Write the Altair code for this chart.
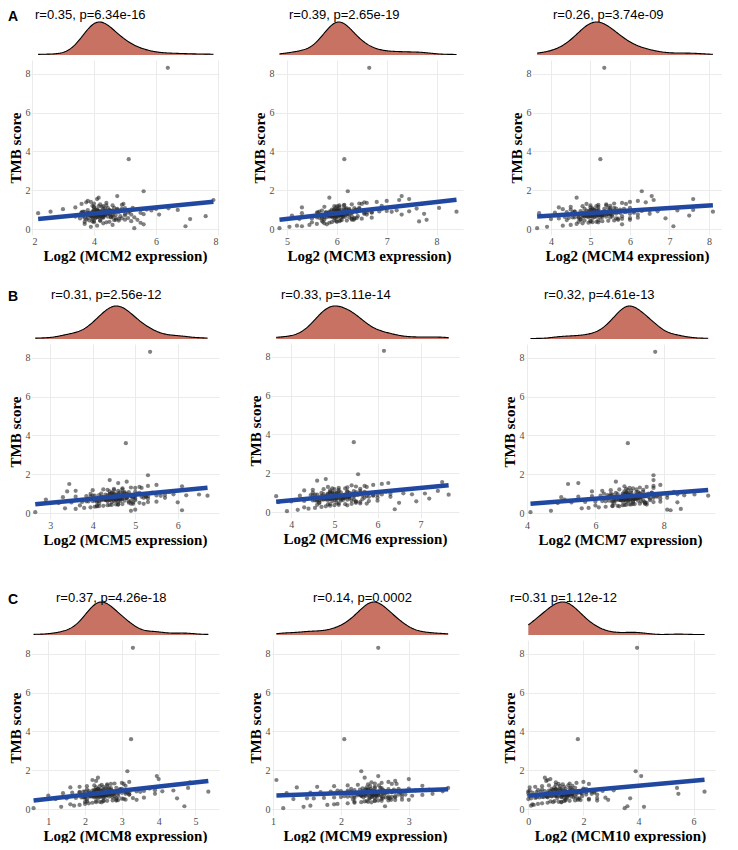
import altair as alt
import pandas as pd

# TMB score, shared by all panels (same samples)
tmb = [8.3, 3.6, 1.95,
       0.05, 0.12, 0.18, 0.22, 0.27, 0.3, 0.33, 0.36, 0.38, 0.41, 0.43, 0.45, 0.47, 0.49, 0.4, 0.35, 0.15, 0.25, 0.44, 0.48,
       0.52, 0.55, 0.58, 0.6, 0.62, 0.64, 0.66, 0.68, 0.7, 0.72, 0.74, 0.76, 0.78, 0.8, 0.53, 0.57, 0.61, 0.65, 0.69, 0.73, 0.77, 0.54, 0.59, 0.63, 0.67, 0.71, 0.75, 0.79, 0.56, 0.7,
       0.82, 0.85, 0.88, 0.9, 0.93, 0.95, 0.98, 1.0, 1.02, 1.05, 1.08, 1.1, 0.84, 0.87, 0.91, 0.94, 0.97, 1.01, 1.04, 1.07, 0.83, 0.86, 0.89, 0.92, 0.96, 0.99, 1.03, 1.06, 1.09, 0.9,
       1.12, 1.15, 1.18, 1.22, 1.25, 1.28, 1.32, 1.35, 1.4, 1.45, 1.5, 1.55, 1.62, 1.7, 1.2, 1.3, 1.38,
       0.62, 0.71, 0.85, 0.93, 0.78, 0.66, 1.02, 0.58, 0.74, 0.88, 0.95, 0.69, 0.81, 1.12, 0.55, 0.76, 0.9, 0.64, 1.05, 0.72,
       0.83, 0.6, 0.97, 0.68, 0.79, 1.15, 0.5, 0.87, 0.73, 0.92, 0.65, 1.0, 0.57, 0.84, 0.77, 0.45, 1.22, 0.7, 0.89, 0.63,
       0.98, 0.75, 0.82, 0.38, 1.08, 0.67, 0.86, 0.59, 0.94, 1.3, 0.71, 0.8, 0.48, 1.18, 0.74, 0.91, 0.61, 0.99, 0.85, 0.42]

mcm2 = [6.38, 5.12, 5.6,
        5.3, 3.9, 4.1, 4.6, 3.7, 4.3, 5.5, 4.0, 4.5, 5.2, 4.2, 3.85, 4.65, 5.0, 3.95, 4.4, 6.95, 5.6, 4.8, 5.4,
        7.1, 3.55, 3.8, 4.05, 4.15, 4.25, 3.65, 3.9, 4.35, 4.6, 4.0, 4.1, 3.75, 4.45, 4.8, 5.1, 5.3, 3.4, 4.2, 4.7, 5.6, 3.95, 4.3, 4.55, 7.6, 5.0, 6.1, 4.05, 4.9, 3.5,
        2.2, 3.6, 4.0, 4.2, 4.4, 4.6, 3.8, 4.1, 4.3, 4.75, 5.0, 5.25, 5.5, 3.95, 4.15, 4.5, 4.85, 5.7, 6.0, 6.4, 4.25, 4.05, 3.7, 5.15, 5.85, 6.7, 3.0, 4.35, 4.65, 2.6,
        3.4, 4.0, 4.3, 4.6, 4.9, 4.2, 4.0, 4.4, 3.9, 3.8, 7.85, 4.1, 4.15, 4.75, 3.95, 3.6, 3.75,
        4.1, 3.8, 4.4, 4.25, 3.95, 4.6, 4.05, 3.7, 4.35, 4.8, 4.15, 3.9, 4.5, 4.0, 4.7, 4.2, 3.65, 4.45, 4.9, 4.3,
        3.85, 4.55, 4.1, 4.0, 5.0, 4.25, 3.75, 4.65, 4.35, 3.95, 4.15, 4.75, 4.05, 3.8, 4.5, 4.2, 4.4, 3.9, 4.6, 4.3,
        4.0, 5.2, 4.1, 3.7, 4.45, 4.85, 3.6, 4.25, 4.55, 4.95, 4.2, 3.85, 4.7, 4.15, 4.05, 4.35, 3.95, 4.5, 5.1, 4.0]

mcm3 = [6.65, 6.15, 6.22,
        4.85, 5.05, 5.2, 5.45, 5.6, 5.75, 5.85, 5.9, 6.0, 6.05, 5.7, 5.95, 6.1, 6.3, 7.65, 5.5, 5.3, 5.8, 6.2, 7.8,
        5.25, 5.5, 5.65, 5.75, 5.8, 5.85, 5.9, 5.95, 6.0, 6.02, 6.05, 6.1, 6.15, 6.2, 6.3, 6.4, 5.6, 5.7, 5.92, 6.08, 6.25, 6.5, 6.7, 5.98, 6.12, 5.88, 7.3, 7.75, 6.35, 5.1,
        5.3, 5.6, 5.78, 5.85, 5.95, 6.0, 6.05, 6.1, 6.18, 6.25, 6.35, 6.45, 6.55, 6.7, 6.85, 7.0, 7.2, 5.9, 6.02, 6.15, 6.3, 6.6, 7.1, 7.45, 5.7, 6.4, 6.9, 7.6, 8.05, 8.4,
        5.3, 5.75, 5.95, 6.05, 6.15, 6.3, 6.45, 6.6, 6.8, 7.0, 7.25, 7.45, 5.85, 7.3, 6.9, 7.7, 6.55,
        6.0, 5.8, 6.15, 6.05, 5.9, 6.3, 5.95, 5.7, 6.1, 6.4, 6.02, 5.85, 6.2, 5.98, 6.35, 6.08, 5.65, 6.12, 6.45, 6.18,
        5.82, 6.25, 6.0, 5.92, 6.55, 6.05, 5.75, 6.28, 6.1, 5.88, 6.03, 6.38, 5.96, 5.78, 6.22, 6.07, 6.14, 5.86, 6.32, 6.16,
        5.94, 6.6, 6.04, 5.72, 6.19, 6.42, 5.62, 6.09, 6.26, 6.5, 6.06, 5.84, 6.34, 6.01, 5.97, 6.13, 5.91, 6.24, 6.7, 5.99]

mcm4 = [5.35, 5.25, 6.3,
        3.65, 3.9, 4.3, 4.5, 4.65, 4.8, 4.95, 5.05, 5.15, 5.3, 5.45, 5.6, 4.4, 4.75, 5.0, 5.2, 7.1, 5.8, 4.85, 6.0,
        4.0, 4.2, 4.45, 4.55, 4.7, 4.8, 4.9, 5.0, 5.1, 5.2, 5.3, 5.4, 5.5, 5.65, 5.8, 6.0, 4.6, 4.85, 5.05, 5.25, 5.45, 5.7, 6.2, 4.35, 4.95, 5.15, 5.55, 6.5, 6.9, 7.5,
        3.7, 4.1, 4.4, 4.6, 4.75, 4.9, 5.0, 5.1, 5.2, 5.35, 5.5, 5.6, 5.75, 5.9, 6.1, 6.3, 6.5, 4.5, 4.85, 5.05, 5.25, 5.45, 5.85, 6.7, 7.2, 7.6, 4.3, 5.65, 6.0, 8.1,
        4.2, 4.5, 4.8, 5.0, 5.2, 5.4, 5.6, 5.8, 6.0, 6.2, 6.6, 7.6, 4.65, 6.55, 5.5, 4.9, 6.4,
        5.1, 4.8, 5.35, 5.2, 4.95, 5.55, 5.05, 4.7, 5.3, 5.7, 5.15, 4.85, 5.45, 5.0, 5.65, 5.25, 4.6, 5.4, 5.85, 5.3,
        4.9, 5.5, 5.1, 5.0, 6.0, 5.2, 4.75, 5.6, 5.35, 4.95, 5.15, 5.75, 5.05, 4.8, 5.5, 5.2, 5.4, 4.9, 5.6, 5.3,
        5.0, 6.2, 5.1, 4.7, 5.45, 5.8, 4.55, 5.25, 5.55, 5.9, 5.2, 4.85, 5.7, 5.15, 5.05, 5.35, 4.95, 5.5, 6.1, 5.0]

mcm5 = [5.35, 4.78, 5.3,
        2.65, 4.9, 5.0, 3.6, 3.8, 3.95, 4.05, 4.15, 4.25, 4.35, 4.45, 4.55, 4.7, 4.9, 3.7, 4.1, 6.1, 3.35, 4.6, 5.2,
        3.2, 3.5, 3.75, 3.9, 4.0, 4.1, 4.2, 4.3, 4.4, 4.5, 4.6, 4.7, 4.8, 4.95, 5.1, 5.3, 3.85, 4.05, 4.25, 4.45, 4.65, 4.85, 5.5, 4.15, 4.35, 4.55, 5.0, 5.7, 6.0, 2.9,
        3.3, 3.6, 3.85, 4.0, 4.15, 4.3, 4.4, 4.5, 4.6, 4.7, 4.85, 5.0, 5.15, 5.3, 5.5, 5.7, 5.9, 4.2, 4.45, 4.65, 4.95, 5.25, 5.6, 6.2, 6.5, 3.95, 4.75, 5.4, 5.8, 6.7,
        3.4, 3.6, 4.0, 4.25, 4.5, 4.7, 4.9, 5.1, 5.3, 5.5, 3.45, 4.6, 4.8, 4.4, 4.35, 5.0, 6.1,
        4.5, 4.2, 4.7, 4.6, 4.35, 4.9, 4.45, 4.1, 4.65, 5.0, 4.55, 4.3, 4.8, 4.4, 4.95, 4.6, 4.05, 4.75, 5.1, 4.65,
        4.25, 4.85, 4.5, 4.4, 5.2, 4.6, 4.15, 4.9, 4.7, 4.35, 4.55, 5.05, 4.45, 4.2, 4.8, 4.6, 4.7, 4.3, 4.9, 4.65,
        4.4, 5.3, 4.5, 4.1, 4.75, 5.0, 3.95, 4.6, 4.85, 5.15, 4.55, 4.25, 4.95, 4.5, 4.45, 4.7, 4.35, 4.8, 5.25, 4.4]

mcm6 = [6.15, 5.45, 5.55,
        3.9, 4.15, 4.4, 4.55, 4.7, 4.8, 4.9, 5.0, 5.1, 5.25, 5.4, 5.6, 4.65, 5.05, 4.85, 5.3, 6.4, 4.3, 5.75, 6.5,
        3.7, 4.0, 4.3, 4.5, 4.6, 4.7, 4.8, 4.9, 4.95, 5.0, 5.1, 5.2, 5.3, 5.45, 5.6, 5.8, 4.55, 4.75, 4.85, 5.05, 5.25, 5.5, 6.0, 4.65, 5.15, 5.35, 5.7, 6.3, 6.9, 7.2,
        3.65, 4.2, 4.45, 4.6, 4.75, 4.85, 4.95, 5.05, 5.15, 5.3, 5.45, 5.6, 5.75, 5.9, 6.1, 6.3, 6.6, 4.5, 4.9, 5.1, 5.35, 5.65, 6.0, 6.8, 7.1, 4.7, 5.5, 6.2, 7.4, 7.65,
        4.3, 4.5, 4.75, 4.95, 5.1, 5.3, 5.5, 5.7, 5.9, 6.1, 6.25, 7.5, 4.6, 4.8, 5.6, 4.85, 5.4,
        5.0, 4.7, 5.25, 5.1, 4.85, 5.45, 4.95, 4.6, 5.2, 5.55, 5.05, 4.75, 5.35, 4.9, 5.5, 5.15, 4.55, 5.3, 5.7, 5.2,
        4.8, 5.4, 5.0, 4.9, 5.8, 5.1, 4.65, 5.45, 5.25, 4.85, 5.05, 5.6, 4.95, 4.7, 5.35, 5.1, 5.25, 4.8, 5.5, 5.2,
        4.9, 6.0, 5.0, 4.6, 5.3, 5.65, 4.5, 5.15, 5.4, 5.75, 5.05, 4.75, 5.5, 5.0, 4.95, 5.25, 4.85, 5.35, 5.9, 4.9]

mcm7 = [7.75, 6.95, 7.7,
        4.1, 4.7, 8.1, 8.5, 5.8, 6.1, 6.3, 6.5, 6.65, 6.8, 6.9, 7.0, 7.15, 7.3, 6.0, 6.7, 8.2, 5.6, 7.5, 7.1,
        4.9, 5.3, 5.7, 6.0, 6.2, 6.4, 6.55, 6.7, 6.8, 6.9, 7.0, 7.1, 7.2, 7.35, 7.5, 7.7, 6.3, 6.6, 6.85, 7.05, 7.25, 7.45, 7.9, 6.5, 6.75, 6.95, 7.6, 8.1, 8.4, 5.1,
        5.0, 5.5, 5.9, 6.15, 6.35, 6.5, 6.65, 6.8, 6.95, 7.05, 7.2, 7.4, 7.55, 7.7, 7.9, 8.1, 8.4, 6.25, 6.6, 6.9, 7.15, 7.45, 7.8, 8.6, 8.9, 6.45, 7.3, 7.65, 8.3, 9.3,
        5.9, 6.2, 6.45, 6.7, 6.9, 7.1, 7.3, 7.5, 7.7, 7.9, 5.2, 5.5, 6.6, 7.7, 7.4, 7.0, 6.85,
        6.95, 6.6, 7.2, 7.05, 6.8, 7.4, 6.9, 6.5, 7.15, 7.5, 7.0, 6.7, 7.3, 6.85, 7.45, 7.1, 6.45, 7.25, 7.65, 7.15,
        6.75, 7.35, 6.95, 6.85, 7.7, 7.05, 6.55, 7.4, 7.2, 6.8, 7.0, 7.55, 6.9, 6.6, 7.3, 7.05, 7.2, 6.75, 7.45, 7.1,
        6.85, 7.9, 6.95, 6.5, 7.25, 7.6, 6.4, 7.1, 7.35, 7.7, 7.0, 6.7, 7.45, 6.95, 6.9, 7.2, 6.8, 7.3, 7.8, 6.85]

mcm8 = [3.3, 3.25, 3.15,
        0.6, 1.35, 1.7, 1.85, 2.0, 2.1, 2.2, 2.3, 2.4, 2.5, 2.6, 2.75, 2.9, 3.1, 2.05, 2.45, 4.7, 1.6, 2.85, 3.4,
        1.2, 1.5, 1.75, 1.9, 2.0, 2.1, 2.15, 2.25, 2.35, 2.45, 2.55, 2.65, 2.75, 2.9, 3.05, 3.3, 1.95, 2.2, 2.4, 2.6, 2.8, 3.0, 3.6, 2.3, 2.5, 2.7, 3.2, 3.9, 4.5, 1.0,
        1.4, 1.65, 1.85, 2.0, 2.1, 2.2, 2.3, 2.4, 2.5, 2.6, 2.7, 2.85, 3.0, 3.2, 3.4, 3.6, 3.9, 2.05, 2.35, 2.55, 2.8, 3.1, 3.5, 4.1, 4.4, 2.25, 2.95, 3.75, 4.8, 5.35,
        1.6, 1.85, 2.05, 2.25, 2.45, 2.6, 2.8, 3.0, 3.2, 2.3, 2.2, 4.0, 2.35, 3.95, 3.1, 2.7, 4.85,
        2.4, 2.1, 2.6, 2.5, 2.25, 2.8, 2.35, 2.0, 2.55, 2.9, 2.45, 2.15, 2.7, 2.3, 2.85, 2.5, 1.95, 2.65, 3.0, 2.55,
        2.2, 2.75, 2.4, 2.3, 3.1, 2.5, 2.05, 2.8, 2.6, 2.25, 2.45, 2.95, 2.35, 2.1, 2.7, 2.5, 2.6, 2.2, 2.8, 2.55,
        2.3, 3.2, 2.4, 2.0, 2.65, 2.9, 1.85, 2.5, 2.75, 3.05, 2.45, 2.15, 2.85, 2.4, 2.35, 2.6, 2.25, 2.7, 3.15, 2.3]

mcm9 = [2.55, 2.05, 2.3,
        1.15, 1.45, 1.55, 1.8, 1.95, 2.1, 2.2, 2.3, 2.4, 2.5, 2.6, 2.7, 2.8, 2.9, 2.35, 2.45, 2.65, 1.9, 2.55, 3.0,
        1.3, 1.6, 1.75, 1.9, 2.0, 2.1, 2.15, 2.2, 2.3, 2.35, 2.4, 2.45, 2.5, 2.55, 2.6, 2.7, 2.8, 2.9, 3.05, 3.2, 2.25, 2.42, 2.62, 2.75, 2.05, 2.48, 2.85, 3.35, 1.5, 2.52,
        1.2, 1.55, 1.7, 1.85, 2.0, 2.1, 2.2, 2.28, 2.36, 2.44, 2.5, 2.58, 2.66, 2.75, 2.85, 2.95, 3.1, 3.3, 2.15, 2.32, 2.46, 2.62, 2.8, 3.5, 1.95, 2.4, 2.7, 3.0, 3.58, 2.55,
        1.35, 1.65, 1.9, 2.1, 2.25, 2.4, 2.5, 2.6, 2.7, 2.8, 1.05, 3.0, 2.35, 2.55, 3.2, 2.75, 2.45,
        2.45, 2.25, 2.55, 2.5, 2.35, 2.7, 2.4, 2.2, 2.52, 2.75, 2.47, 2.3, 2.62, 2.38, 2.72, 2.5, 2.15, 2.6, 2.85, 2.55,
        2.28, 2.66, 2.44, 2.36, 2.9, 2.5, 2.18, 2.68, 2.58, 2.32, 2.46, 2.78, 2.42, 2.22, 2.64, 2.5, 2.56, 2.3, 2.7, 2.53,
        2.37, 2.95, 2.45, 2.2, 2.6, 2.8, 2.1, 2.5, 2.65, 2.82, 2.46, 2.26, 2.74, 2.43, 2.4, 2.57, 2.33, 2.62, 2.88, 2.38]

mcm10 = [3.95, 1.8, 3.9,
         3.5, 4.2, 0.1, 0.2, 0.35, 0.5, 0.7, 0.9, 1.1, 1.3, 1.5, 1.7, 1.9, 2.2, 0.8, 1.2, 3.6, 0.15, 2.5, 2.9,
         0.0, 0.1, 0.25, 0.4, 0.55, 0.7, 0.85, 1.0, 1.15, 1.3, 1.45, 1.6, 1.75, 1.95, 2.2, 2.5, 0.3, 0.65, 0.95, 1.25, 1.55, 1.85, 2.8, 0.5, 1.05, 1.4, 2.1, 5.45, 3.7, 0.02,
         0.0, 0.15, 0.3, 0.45, 0.6, 0.75, 0.9, 1.05, 1.2, 1.35, 1.5, 1.7, 1.9, 2.1, 2.4, 2.7, 3.1, 0.5, 0.85, 1.15, 1.45, 1.8, 2.3, 0.0, 0.05, 0.35, 1.0, 2.0, 5.4, 6.4,
         0.05, 0.25, 0.5, 0.75, 1.0, 1.25, 1.5, 1.75, 2.0, 0.65, 0.7, 0.8, 0.6, 4.1, 1.6, 1.1, 1.0,
         1.2, 0.6, 1.5, 1.35, 0.9, 1.7, 1.0, 1.4, 1.4, 1.9, 1.25, 0.75, 1.6, 0.95, 1.8, 1.3, 1.3, 1.55, 2.1, 1.45,
         0.7, 1.65, 1.15, 0.85, 2.3, 1.3, 1.35, 1.75, 1.5, 0.8, 1.2, 2.0, 1.05, 1.25, 1.6, 1.35, 1.45, 0.65, 1.7, 1.4,
         0.9, 2.5, 1.1, 1.2, 1.55, 1.95, 1.1, 1.3, 1.65, 2.2, 1.25, 1.45, 1.8, 1.15, 1.0, 1.5, 0.7, 1.6, 2.4, 0.95]

genes = ["MCM2", "MCM3", "MCM4", "MCM5", "MCM6", "MCM7", "MCM8", "MCM9", "MCM10"]
series = [mcm2, mcm3, mcm4, mcm5, mcm6, mcm7, mcm8, mcm9, mcm10]
stats = ["r=0.35, p=6.34e-16", "r=0.39, p=2.65e-19", "r=0.26, p=3.74e-09",
         "r=0.31, p=2.56e-12", "r=0.33, p=3.11e-14", "r=0.32, p=4.61e-13",
         "r=0.37, p=4.26e-18", "r=0.14, p=0.0002", "r=0.31 p=1.12e-12"]
x_domains = [[1.97, 8.03], [4.76, 8.53], [3.52, 8.33],
             [2.55, 6.97], [3.53, 7.89], [3.94, 9.5],
             [0.53, 5.64], [0.97, 3.74], [-0.12, 6.78]]
x_grid = [[2, 3, 4, 5, 6, 7, 8],
          [5, 5.5, 6, 6.5, 7, 7.5, 8, 8.5],
          [3.5, 4, 4.5, 5, 5.5, 6, 6.5, 7, 7.5, 8],
          [3, 3.5, 4, 4.5, 5, 5.5, 6, 6.5],
          [3.5, 4, 4.5, 5, 5.5, 6, 6.5, 7, 7.5],
          [4, 4.5, 5, 5.5, 6, 6.5, 7, 7.5, 8, 8.5, 9, 9.5],
          [1, 1.5, 2, 2.5, 3, 3.5, 4, 4.5, 5, 5.5],
          [1, 1.5, 2, 2.5, 3, 3.5],
          [0, 1, 2, 3, 4, 5, 6]]
x_labels = [[2, 4, 6, 8], [5, 6, 7, 8], [4, 5, 6, 7, 8],
            [3, 4, 5, 6], [4, 5, 6, 7], [4, 5, 6, 7, 8, 9],
            [1, 2, 3, 4, 5], [1, 2, 3], [0, 2, 4, 6]]
bandwidths = [0.36, 0.2, 0.28, 0.22, 0.23, 0.26, 0.24, 0.14, 0.4]
title_dx = [4, 14, 21, 20, 10, 19, 25, 42, -15]
row_title_offset = [-2, 2, -5]
letters = ["A", "B", "C"]
widths = [188, 188, 190]

y_grid = [0, 1, 2, 3, 4, 5, 6, 7, 8]

FILL = "#C87264"
BLUE = "#2148A0"
H = 175
DH = 33


def panel(i):
    df = pd.DataFrame({"x": series[i], "y": tmb})
    base = alt.Chart(df)
    xscale = alt.Scale(domain=x_domains[i], nice=False, zero=False)
    row = i // 3
    W = widths[i % 3]
    dens = base.transform_density(
        "x", as_=["xv", "density"], bandwidth=bandwidths[i]
    ).mark_area(
        color=FILL, opacity=1, line={"color": "black", "strokeWidth": 1.1}
    ).encode(
        x=alt.X("xv:Q", scale=xscale, axis=None),
        y=alt.Y("density:Q", axis=None, scale=alt.Scale(zero=True, nice=False)),
    ).properties(
        width=W, height=DH,
        title=alt.TitleParams(stats[i], anchor="start", frame="group", dx=title_dx[i],
                              offset=row_title_offset[row], font="Liberation Sans",
                              fontSize=13, fontWeight="normal", color="black"),
    )
    lab_list = ",".join(str(v) for v in x_labels[i])
    pts = base.mark_circle(size=18, color="#262626", opacity=0.58).encode(
        x=alt.X("x:Q", scale=xscale, title=f"Log2 ({genes[i]} expression)",
                axis=alt.Axis(values=x_grid[i], format="~g",
                              labelExpr=f"indexof([{lab_list}], datum.value) >= 0 ? datum.label : ''")),
        y=alt.Y("y:Q", scale=alt.Scale(domain=[-0.3, 8.7], nice=False, zero=False),
                title="TMB score",
                axis=alt.Axis(values=y_grid, format="~g",
                              labelExpr="indexof([0,2,4,6,8], datum.value) >= 0 ? datum.label : ''")),
    )
    reg = base.transform_regression("x", "y").mark_line(
        color=BLUE, strokeWidth=4.5
    ).encode(x="x:Q", y="y:Q")
    scat = alt.layer(pts, reg).properties(width=W, height=H)
    return alt.vconcat(dens, scat, spacing=3)


rows = []
for r in range(3):
    p = [panel(3 * r + c) for c in range(3)]
    rows.append(alt.hconcat(alt.hconcat(p[0], p[1], spacing=29), p[2], spacing=43).properties(
        title=alt.TitleParams(letters[r], anchor="start", frame="bounds", offset=-15,
                              font="Liberation Sans", fontSize=14, fontWeight="bold", color="black")))

chart = alt.vconcat(alt.vconcat(rows[0], rows[1], spacing=25), rows[2], spacing=44).properties(
    padding={"left": 0, "top": 0, "right": 0, "bottom": 0}, background="white"
).configure_view(stroke=None).configure_axis(
    grid=True, gridColor="#EBEBEB", gridWidth=1, domain=False, ticks=False,
    labelFont="Liberation Serif", labelFontSize=10, labelColor="#4D4D4D", labelPadding=1,
    titleFont="Liberation Serif", titleFontSize=15, titleFontWeight="bold", titleColor="black",
    titlePadding=2,
).configure_axisY(titlePadding=2)

chart.save("out.html", embed_options={"renderer": "svg", "actions": False})
